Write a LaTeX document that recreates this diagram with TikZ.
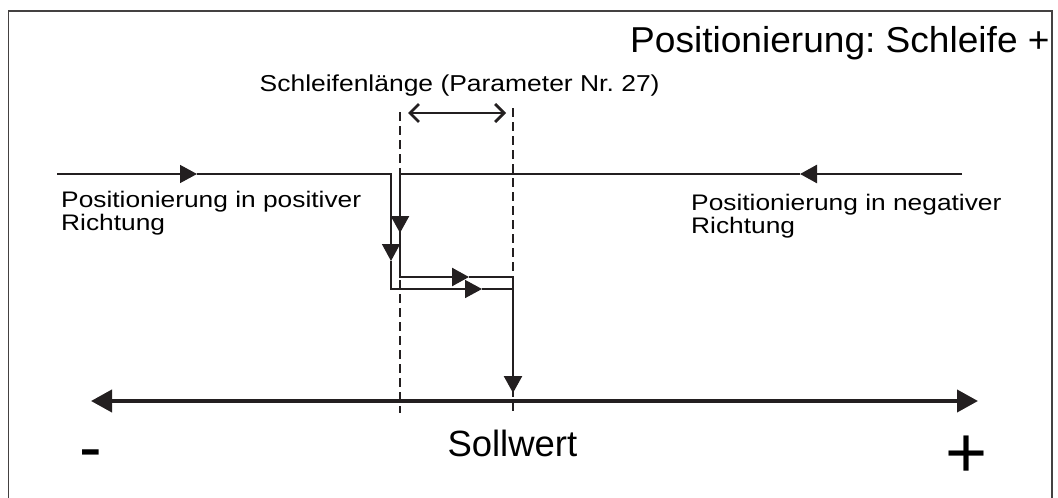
\documentclass[tikz,border=0pt]{standalone}
\usepackage{fontspec}
\setmainfont{Liberation Sans}
\usepackage{graphicx}
\usetikzlibrary{arrows.meta}
\definecolor{ink}{RGB}{35,31,32}
\newcommand\fsz[2]{\fontsize{#1}{#2}\selectfont}
\frenchspacing
\tikzset{
  lbl/.style={inner sep=0pt, anchor=base west, text=black},
  thinpath/.style={draw=ink, line width=1.5pt},
  thickpath/.style={draw=ink, line width=2.5pt},
  tri/.style={-{Triangle[length=17pt,width=18pt]}},
  guide/.style={draw=ink, line width=2pt, dash pattern=on 9pt off 5pt},
  frame/.style={draw=ink!85, line width=1.3pt},
  axisline/.style={draw=ink, line width=4pt, {Triangle[length=21pt,width=22pt]}-{Triangle[length=21pt,width=22pt]}},
  span/.style={draw=ink, line width=1.8pt, {Straight Barb[length=9pt,width=18pt,line width=2.8pt]}-{Straight Barb[length=9pt,width=18pt,line width=2.8pt]}}
}
\begin{document}
\begin{tikzpicture}[x=1pt,y=-1pt]
\useasboundingbox (0,0) rectangle (1058,498);
% frame
\draw[frame] (8.5,520) -- (8.5,11) -- (1052,11) -- (1052,520);

% coordinates
\coordinate (G1t) at (400,112);
\coordinate (G1b) at (400,413);
\coordinate (G2t) at (513,108);
\coordinate (G2b) at (513,413);
\coordinate (S1) at (408,113);
\coordinate (S2) at (506,113);
\coordinate (AxL) at (91,401);
\coordinate (AxR) at (978,401);
% positive path
\coordinate (P0) at (57,174);
\coordinate (A1) at (197,174);
\coordinate (P1) at (391,174);
\coordinate (A2) at (391,261);
\coordinate (P2) at (391,289);
\coordinate (A3) at (482,289);
\coordinate (P3) at (513,289);
% negative path
\coordinate (N0) at (962,174);
\coordinate (B1) at (800,174);
\coordinate (N1) at (400,174);
\coordinate (B2) at (400,233);
\coordinate (N2) at (400,277);
\coordinate (B3) at (469,277);
\coordinate (N3) at (513,277);
\coordinate (B4) at (513,393);

% guides
\draw[guide] (G1t) -- (G1b);
\draw[guide] (G2t) -- (G2b);
\draw[span] (S1) -- (S2);

% axis
\draw[axisline] (AxL) -- (AxR);

% positive direction
\draw[thinpath,tri] (P0) -- (A1);
\draw[thinpath,tri] (A1) -- (P1) -- (A2);
\draw[thinpath,tri] (A2) -- (P2) -- (A3);
\draw[thinpath] (A3) -- (P3);

% negative direction
\draw[thickpath,tri] (N0) -- (B1);
\draw[thickpath,tri] (B1) -- (N1) -- (B2);
\draw[thickpath,tri] (B2) -- (N2) -- (B3);
\draw[thickpath,tri] (B3) -- (N3) -- (B4);

% labels
\node[lbl] (title) at (630,52.3) {\scalebox{1.03}[1]{\fsz{36}{42}Positionierung: Schleife +}};
\node[lbl] (len) at (259.5,91) {\scalebox{1.15}[1]{\fsz{23}{27}Schleifenlänge (Parameter Nr. 27)}};
\node[lbl] (postext) at (61,207.5) {\scalebox{1.17}[1]{\fsz{22.5}{23}\begin{tabular}[t]{@{}l@{}}Positionierung in positiver\\Richtung\end{tabular}}};
\node[lbl] (negtext) at (691,210) {\scalebox{1.17}[1]{\fsz{22.5}{23}\begin{tabular}[t]{@{}l@{}}Positionierung in negativer\\Richtung\end{tabular}}};
\node[lbl] (soll) at (447.3,456) {\fsz{36.5}{42}Sollwert};
\node[lbl] (minus) at (79,470) {\fsz{68}{80}-};
\node[lbl] (plus) at (945,477.5) {\fsz{72}{84}+};
\end{tikzpicture}
\end{document}
